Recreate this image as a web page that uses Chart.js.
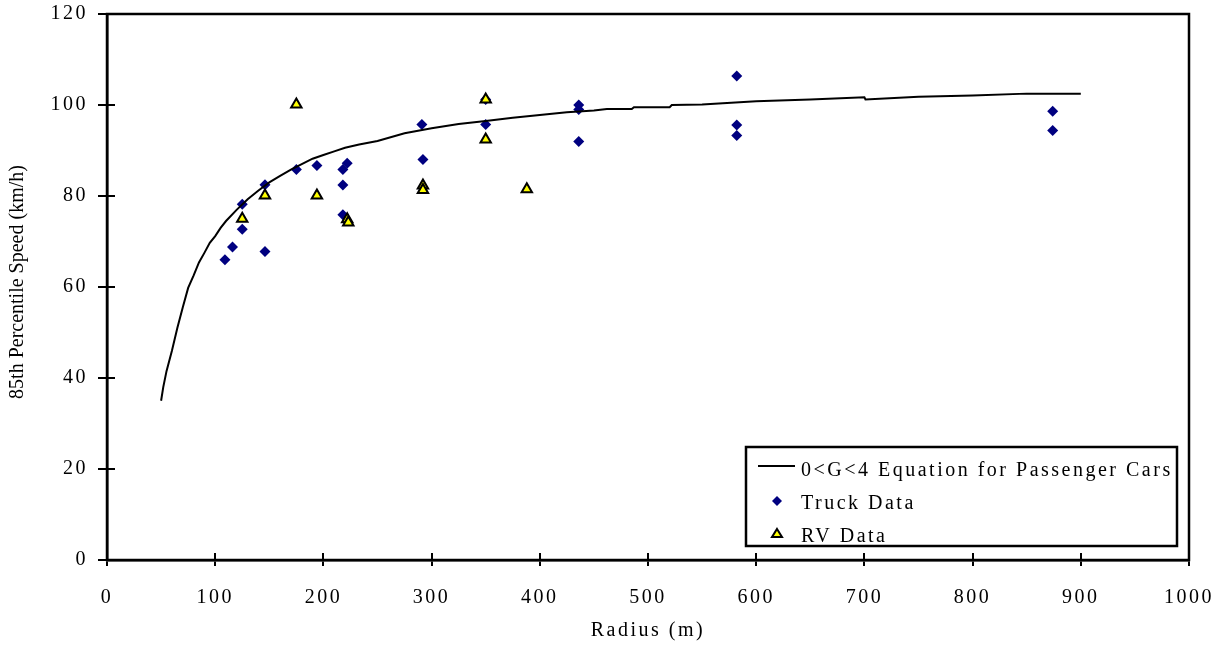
<!DOCTYPE html>
<html>
<head>
<meta charset="utf-8">
<script src="https://cdn.jsdelivr.net/npm/chart.js@4.4.1/dist/chart.umd.min.js"></script>
<style>
  html, body { margin: 0; padding: 0; background: #fff; }
  #wrap { width: 1225px; height: 654px; }
</style>
</head>
<body>
<div id="wrap"><canvas id="chart"></canvas></div>
<script>
// passenger-car equation curve (radius m, speed km/h)
const curveRadius = [50, 52, 55, 60, 65, 70, 75, 80, 85, 90, 95, 100, 105, 110, 120, 130, 140, 150, 160, 170,
  180, 190, 200, 210, 220, 233, 250, 275, 300, 325, 350, 375, 400, 425, 450, 462, 485, 487, 520, 522,
  550, 600, 650, 700, 701, 750, 800, 850, 900];
const curveSpeed = [35, 38, 41.5, 46, 51, 55.5, 59.8, 62.5, 65.4, 67.5, 69.7, 71.2, 73, 74.5, 77, 79.3, 81.2, 83, 84.4, 85.8,
  87, 88.2, 89, 89.8, 90.6, 91.3, 92.1, 93.8, 94.9, 95.8, 96.5, 97.2, 97.8, 98.4, 98.8, 99.1, 99.1, 99.5, 99.5, 100,
  100.1, 100.8, 101.2, 101.7, 101.2, 101.8, 102.1, 102.5, 102.5];

const truckRadius = [109, 116, 125, 125, 146, 146, 175, 194, 218, 222, 218, 218, 291, 292, 350, 350,
  436, 436, 436, 582, 582, 582, 874, 874];
const truckSpeed = [66, 68.8, 72.7, 78.2, 82.5, 67.8, 85.8, 86.7, 85.8, 87.2, 82.4, 75.9, 95.7, 88, 101.2, 95.7,
  100, 99, 92, 106.4, 95.6, 93.3, 98.6, 94.4];

const rvRadius = [125, 146, 175, 194, 222, 223, 292, 292, 350, 350, 388];
const rvSpeed = [75, 80.1, 100.1, 80.1, 74.9, 74.2, 82.3, 81.3, 101.2, 92.4, 81.5];

const xTicks = [0, 100, 200, 300, 400, 500, 600, 700, 800, 900, 1000];
const yTicks = [0, 20, 40, 60, 80, 100, 120];

const seriesNames = ['0<G<4 Equation for Passenger Cars', 'Truck Data', 'RV Data'];
const yTitle = '85th Percentile Speed (km/h)';
const xTitle = 'Radius (m)';

const SERIF = '"Liberation Serif", "Times New Roman", serif';
const TRUCK_BLUE = '#000080';
const RV_YELLOW = '#ffff00';

function toPoints(xs, ys) {
  return xs.map((x, i) => ({ x: x, y: ys[i] }));
}

function diamond(ctx, x, y, r) {
  ctx.beginPath();
  ctx.moveTo(x, y - r);
  ctx.lineTo(x + r, y);
  ctx.lineTo(x, y + r);
  ctx.lineTo(x - r, y);
  ctx.closePath();
  ctx.fillStyle = TRUCK_BLUE;
  ctx.fill();
}

function triangle(ctx, x, y, r) {
  ctx.beginPath();
  ctx.moveTo(x, y - r);
  ctx.lineTo(x + r, y + r * 0.6);
  ctx.lineTo(x - r, y + r * 0.6);
  ctx.closePath();
  ctx.fillStyle = RV_YELLOW;
  ctx.fill();
  ctx.lineWidth = 2;
  ctx.strokeStyle = '#000';
  ctx.stroke();
}

// frame, inner tick marks, rotated y title and boxed legend
const decorations = {
  id: 'decorations',
  beforeDraw(chart) {
    chart.ctx.letterSpacing = '2.5px';
  },
  afterDraw(chart) {
    const { ctx, chartArea: a } = chart;
    const xs = chart.scales.x, ys = chart.scales.y;
    ctx.save();
    ctx.strokeStyle = '#000';
    ctx.lineWidth = 2.5;
    ctx.strokeRect(a.left, a.top, a.right - a.left, a.bottom - a.top);

    ctx.lineWidth = 2;
    ctx.beginPath();
    yTicks.forEach(v => {
      const py = Math.round(ys.getPixelForValue(v));
      ctx.moveTo(a.left, py);
      ctx.lineTo(a.left + 8, py);
    });
    xTicks.forEach(v => {
      const px = Math.round(xs.getPixelForValue(v));
      ctx.moveTo(px, a.bottom);
      ctx.lineTo(px, a.bottom - 7);
    });
    ctx.stroke();

    // y axis title
    ctx.save();
    ctx.letterSpacing = '0px';
    ctx.translate(18, 282);
    ctx.rotate(-Math.PI / 2);
    ctx.font = '20px ' + SERIF;
    ctx.fillStyle = '#000';
    ctx.textAlign = 'center';
    ctx.textBaseline = 'middle';
    ctx.fillText(yTitle, 0, 0);
    ctx.restore();

    // legend
    const lx = a.right - 443, ly = a.bottom - 113, lw = 431, lh = 99;
    ctx.fillStyle = '#fff';
    ctx.fillRect(lx, ly, lw, lh);
    ctx.lineWidth = 2.5;
    ctx.strokeStyle = '#000';
    ctx.strokeRect(lx, ly, lw, lh);

    ctx.lineWidth = 2;
    ctx.beginPath();
    ctx.moveTo(lx + 12, ly + 19);
    ctx.lineTo(lx + 49, ly + 19);
    ctx.stroke();
    diamond(ctx, lx + 31, ly + 54, 5);
    triangle(ctx, lx + 31, ly + 87, 5);

    ctx.font = '20px ' + SERIF;
    ctx.fillStyle = '#000';
    ctx.textAlign = 'left';
    ctx.textBaseline = 'middle';
    ctx.letterSpacing = '2.5px';
    ctx.fillText(seriesNames[0], lx + 55, ly + 24);
    ctx.fillText(seriesNames[1], lx + 55, ly + 57);
    ctx.fillText(seriesNames[2], lx + 55, ly + 90);
    ctx.restore();
  }
};

new Chart(document.getElementById('chart'), {
  type: 'scatter',
  data: {
    datasets: [
      {
        label: seriesNames[0],
        type: 'line',
        data: toPoints(curveRadius, curveSpeed),
        borderColor: '#000',
        borderWidth: 2,
        pointRadius: 0,
        tension: 0,
        fill: false,
        order: 1
      },
      {
        label: seriesNames[1],
        data: toPoints(truckRadius, truckSpeed),
        pointStyle: 'rectRot',
        pointRadius: 5.5,
        backgroundColor: TRUCK_BLUE,
        borderColor: TRUCK_BLUE,
        borderWidth: 0,
        order: 2
      },
      {
        label: seriesNames[2],
        data: toPoints(rvRadius, rvSpeed),
        pointStyle: 'triangle',
        pointRadius: 6,
        backgroundColor: RV_YELLOW,
        borderColor: '#000',
        borderWidth: 2,
        order: 0
      }
    ]
  },
  options: {
    responsive: true,
    maintainAspectRatio: false,
    animation: false,
    layout: { padding: { top: 14, right: 36, left: 0, bottom: 0 } },
    plugins: {
      legend: { display: false },
      tooltip: { enabled: false }
    },
    scales: {
      x: {
        type: 'linear',
        min: 0,
        max: 1000,
        afterFit(scale) {
          scale.height = 94;
          scale.paddingLeft = 0;
          scale.paddingRight = 0;
        },
        afterBuildTicks(scale) { scale.ticks = xTicks.map(v => ({ value: v })); },
        grid: { drawOnChartArea: false, drawTicks: true, tickLength: 6, color: '#000', lineWidth: 2 },
        border: { display: true, color: '#000', width: 2.5 },
        ticks: {
          color: '#000', padding: 20, maxRotation: 0,
          font: { family: SERIF, size: 20 },
          callback: v => String(v)
        },
        title: { display: true, text: xTitle, color: '#000', padding: { top: 0, bottom: 11 }, font: { family: SERIF, size: 20 } }
      },
      y: {
        type: 'linear',
        min: 0,
        max: 120,
        afterFit(scale) {
          scale.width = 107;
          scale.paddingTop = 0;
          scale.paddingBottom = 0;
        },
        afterBuildTicks(scale) { scale.ticks = yTicks.map(v => ({ value: v })); },
        grid: { drawOnChartArea: false, drawTicks: true, tickLength: 9, color: '#000', lineWidth: 2 },
        border: { display: true, color: '#000', width: 2.5 },
        ticks: {
          color: '#000', padding: 10,
          font: { family: SERIF, size: 20 },
          callback: v => String(v)
        }
      }
    }
  },
  plugins: [decorations]
});
</script>
</body>
</html>
